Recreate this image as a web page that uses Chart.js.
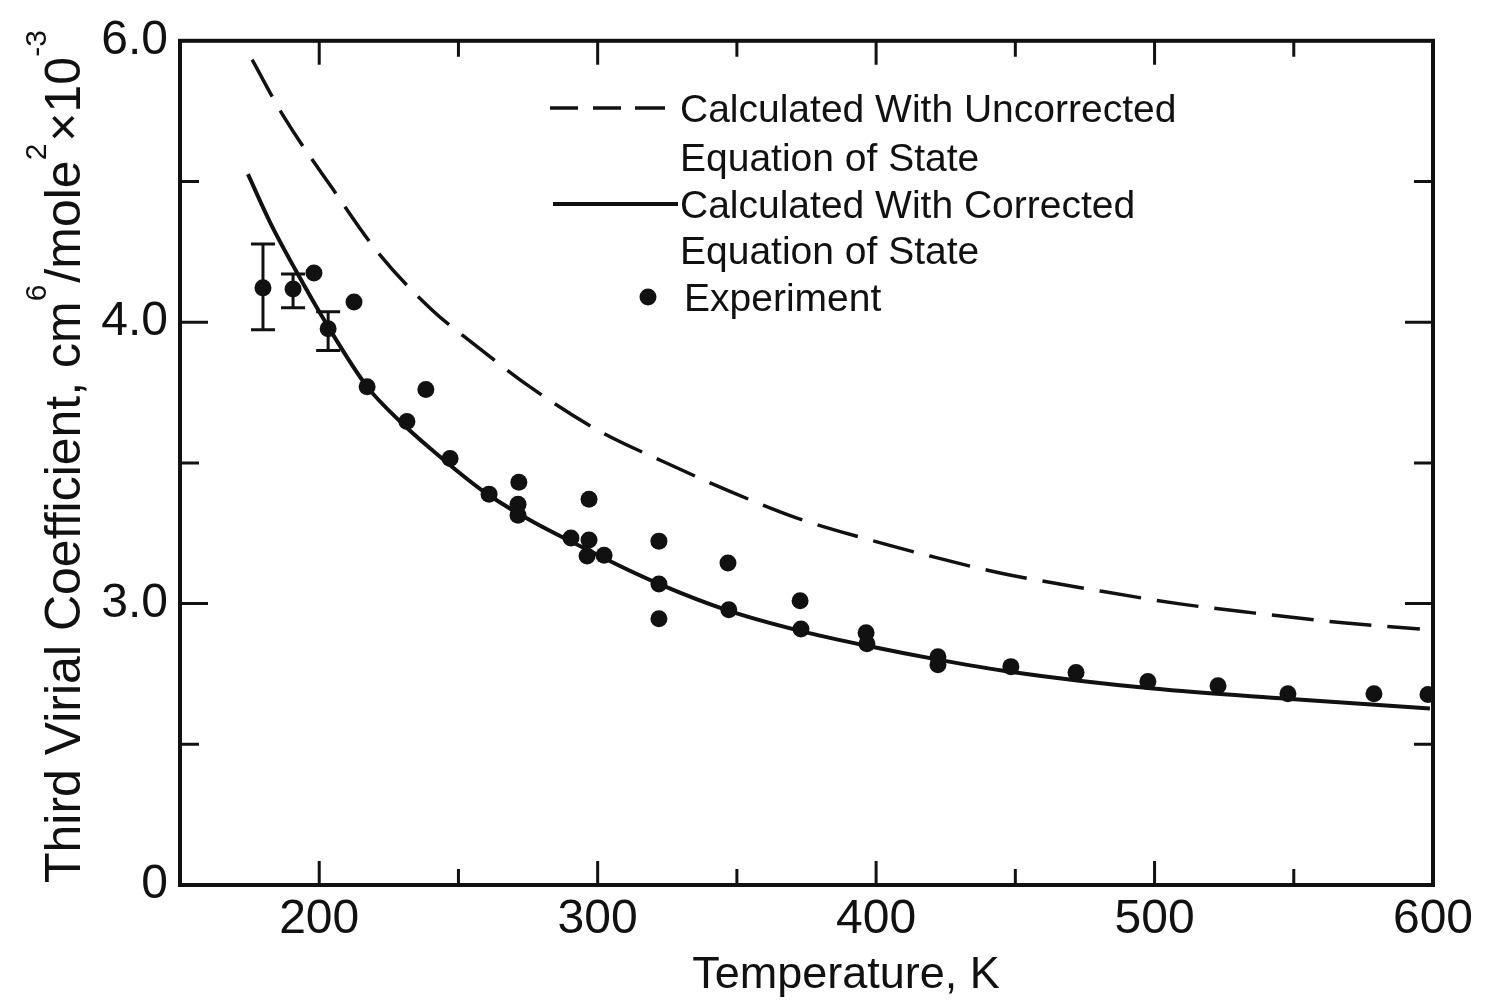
<!DOCTYPE html>
<html>
<head>
<meta charset="utf-8">
<script src="https://cdn.jsdelivr.net/npm/chart.js@4.4.1/dist/chart.umd.min.js"></script>
<style>
  html, body { margin: 0; padding: 0; background: #fff; }
  #wrap { width: 1485px; height: 1000px; }
</style>
</head>
<body>
<div id="wrap"><canvas id="virialChart" width="1485" height="1000"></canvas></div>
<script>
// axis ticks (y axis is drawn on a linear plotting scale, labels as printed)
const tempTicks = [150, 200, 250, 300, 350, 400, 450, 500, 550, 600];
const tempTickText = ['', '200', '', '300', '', '400', '', '500', '', '600'];
const coefTicks = [2.0, 2.5, 3.0, 3.5, 4.0, 4.5, 5.0];
const coefTickText = ['0', '', '3.0', '', '4.0', '', '6.0'];

// calculated with uncorrected equation of state (dashed)
const uncorrT = [175.9, 187.0, 204.9, 221.8, 240.9, 255.2, 275.7, 300.8, 323.5, 347.5, 371.6, 395.3, 419.4, 444.5, 480.4, 509.1, 535.4, 567.7, 595.3];
const uncorrC = [4.933, 4.735, 4.473, 4.239, 4.040, 3.925, 3.770, 3.612, 3.505, 3.399, 3.304, 3.233, 3.169, 3.109, 3.045, 2.999, 2.967, 2.932, 2.910];

// calculated with corrected equation of state (solid)
const corrT = [174.4, 182.3, 191.3, 202.8, 217.2, 229.0, 239.8, 261.0, 300.8, 322.0, 347.2, 372.7, 396.7, 422.2, 448.1, 499.5, 547.6, 598.9];
const corrC = [4.526, 4.356, 4.189, 3.991, 3.771, 3.648, 3.552, 3.385, 3.169, 3.070, 2.974, 2.903, 2.850, 2.801, 2.758, 2.698, 2.662, 2.627];

// experiment
const expT = [179.8, 190.6, 198.1, 203.2, 212.5, 217.2, 231.5, 238.3, 247.0, 261.0, 271.7, 271.4, 271.4, 290.4, 296.9, 296.9, 296.2, 302.3, 322.0, 322.0, 322.0, 346.8, 347.1, 372.7, 373.0, 396.4, 396.7, 422.2, 422.2, 448.4, 471.8, 497.6, 522.8, 547.9, 578.8, 598.2];
const expC = [4.122, 4.118, 4.175, 3.977, 4.072, 3.771, 3.647, 3.761, 3.516, 3.389, 3.431, 3.353, 3.314, 3.233, 3.371, 3.226, 3.169, 3.172, 3.222, 3.070, 2.946, 3.144, 2.978, 3.010, 2.910, 2.896, 2.857, 2.811, 2.783, 2.776, 2.755, 2.723, 2.708, 2.680, 2.680, 2.677];

// error bars on the low temperature points
const errT = [179.8, 190.6, 203.2];
const errLo = [3.973, 4.051, 3.899];
const errHi = [4.278, 4.171, 4.037];

const INK = '#111';
const FONT = "'Liberation Sans', Arial, sans-serif";

const toXY = (xs, ys) => xs.map((x, i) => ({ x: x, y: ys[i] }));

// frame with inward ticks on all four sides
const frameTicks = {
  id: 'frameTicks',
  beforeDatasetsDraw(chart) {
    const { ctx, chartArea: a, scales } = chart;
    ctx.save();
    ctx.strokeStyle = INK;
    ctx.lineWidth = 4;
    ctx.strokeRect(a.left, a.top, a.right - a.left, a.bottom - a.top);
    ctx.lineWidth = 3;
    ctx.beginPath();
    tempTicks.forEach(v => {
      if (v === tempTicks[0] || v === tempTicks[tempTicks.length - 1]) return;
      const px = scales.x.getPixelForValue(v);
      const len = v % 100 === 0 ? 24 : 16;
      ctx.moveTo(px, a.bottom); ctx.lineTo(px, a.bottom - len);
      ctx.moveTo(px, a.top); ctx.lineTo(px, a.top + len);
    });
    coefTicks.forEach((v, i) => {
      if (i === 0 || i === coefTicks.length - 1) return;
      const py = scales.y.getPixelForValue(v);
      const len = coefTickText[i] ? 28 : 19;
      ctx.moveTo(a.left, py); ctx.lineTo(a.left + len, py);
      ctx.moveTo(a.right, py); ctx.lineTo(a.right - len, py);
    });
    ctx.stroke();
    ctx.restore();
  }
};

// vertical error bars with caps
const errorBars = {
  id: 'errorBars',
  afterDatasetsDraw(chart) {
    const { ctx, scales } = chart;
    ctx.save();
    ctx.strokeStyle = INK;
    ctx.lineWidth = 3;
    ctx.beginPath();
    errT.forEach((t, i) => {
      const px = scales.x.getPixelForValue(t);
      const top = scales.y.getPixelForValue(errHi[i]);
      const bot = scales.y.getPixelForValue(errLo[i]);
      ctx.moveTo(px, top); ctx.lineTo(px, bot);
      ctx.moveTo(px - 12, top); ctx.lineTo(px + 12, top);
      ctx.moveTo(px - 12, bot); ctx.lineTo(px + 12, bot);
    });
    ctx.stroke();
    ctx.restore();
  }
};

// legend block and axis titles (y title needs superscripts)
const labels = {
  id: 'labels',
  afterDraw(chart) {
    const { ctx } = chart;
    ctx.save();
    ctx.fillStyle = INK;
    ctx.strokeStyle = INK;

    // legend
    ctx.font = '39px ' + FONT;
    ctx.textBaseline = 'alphabetic';
    ctx.textAlign = 'left';
    ctx.lineWidth = 3.5;
    ctx.beginPath();
    [[550, 578], [593, 621], [635, 665]].forEach(([x0, x1]) => {
      ctx.moveTo(x0, 108); ctx.lineTo(x1, 108);
    });
    ctx.stroke();
    ctx.lineWidth = 4;
    ctx.beginPath(); ctx.moveTo(553, 204); ctx.lineTo(678, 204); ctx.stroke();
    ctx.beginPath(); ctx.arc(648, 297, 8.5, 0, Math.PI * 2); ctx.fill();
    ctx.fillText('Calculated With Uncorrected', 680, 122);
    ctx.fillText('Equation of State', 680, 171);
    ctx.fillText('Calculated With Corrected', 680, 218);
    ctx.fillText('Equation of State', 680, 264);
    ctx.fillText('Experiment', 684, 311);

    // x title
    ctx.font = '45px ' + FONT;
    ctx.textAlign = 'center';
    ctx.fillText('Temperature, K', 846, 988);

    // y title, rotated
    ctx.translate(80, 883);
    ctx.rotate(-Math.PI / 2);
    ctx.textAlign = 'left';
    const parts = [
      ['Third Virial Coefficient, cm', false],
      ['6', true], ['/mole', false], ['2', true], ['\u00d710', false], ['-3', true]
    ];
    let pos = 0;
    parts.forEach(([txt, sup]) => {
      ctx.font = (sup ? '30px ' : '50px ') + FONT;
      ctx.fillText(txt, pos, sup ? -34 : 0);
      pos += ctx.measureText(txt).width + (sup ? 2 : 0);
    });
    ctx.restore();
  }
};

new Chart(document.getElementById('virialChart'), {
  type: 'scatter',
  data: {
    datasets: [
      {
        label: 'Calculated With Uncorrected Equation of State',
        data: toXY(uncorrT, uncorrC),
        showLine: true, pointRadius: 0,
        borderColor: INK, borderWidth: 3.5, borderDash: [42, 16],
        cubicInterpolationMode: 'monotone'
      },
      {
        label: 'Calculated With Corrected Equation of State',
        data: toXY(corrT, corrC),
        showLine: true, pointRadius: 0,
        borderColor: INK, borderWidth: 4,
        cubicInterpolationMode: 'monotone'
      },
      {
        label: 'Experiment',
        data: toXY(expT, expC),
        pointRadius: 8.5, pointBackgroundColor: INK, pointBorderWidth: 0
      }
    ]
  },
  options: {
    responsive: false,
    devicePixelRatio: 1,
    animation: false,
    layout: { padding: { left: 0, top: 38, right: 52, bottom: 0 } },
    plugins: { legend: { display: false }, tooltip: { enabled: false } },
    scales: {
      x: {
        type: 'linear', min: 150, max: 600,
        afterBuildTicks: s => { s.ticks = tempTicks.map(v => ({ value: v })); },
        afterFit: s => { s.height = 115; },
        grid: { display: false, drawTicks: false },
        border: { display: false },
        ticks: {
          autoSkip: false, maxRotation: 0, padding: 6, color: INK,
          font: { family: FONT, size: 48 },
          callback: v => tempTickText[tempTicks.indexOf(v)]
        }
      },
      y: {
        type: 'linear', min: 2.0, max: 5.0,
        afterBuildTicks: s => { s.ticks = coefTicks.map(v => ({ value: v })); },
        afterFit: s => { s.width = 180; },
        grid: { display: false, drawTicks: false },
        border: { display: false },
        ticks: {
          autoSkip: false, padding: 12, color: INK,
          font: { family: FONT, size: 48 },
          callback: v => coefTickText[coefTicks.indexOf(v)]
        }
      }
    }
  },
  plugins: [frameTicks, errorBars, labels]
});
</script>
</body>
</html>
